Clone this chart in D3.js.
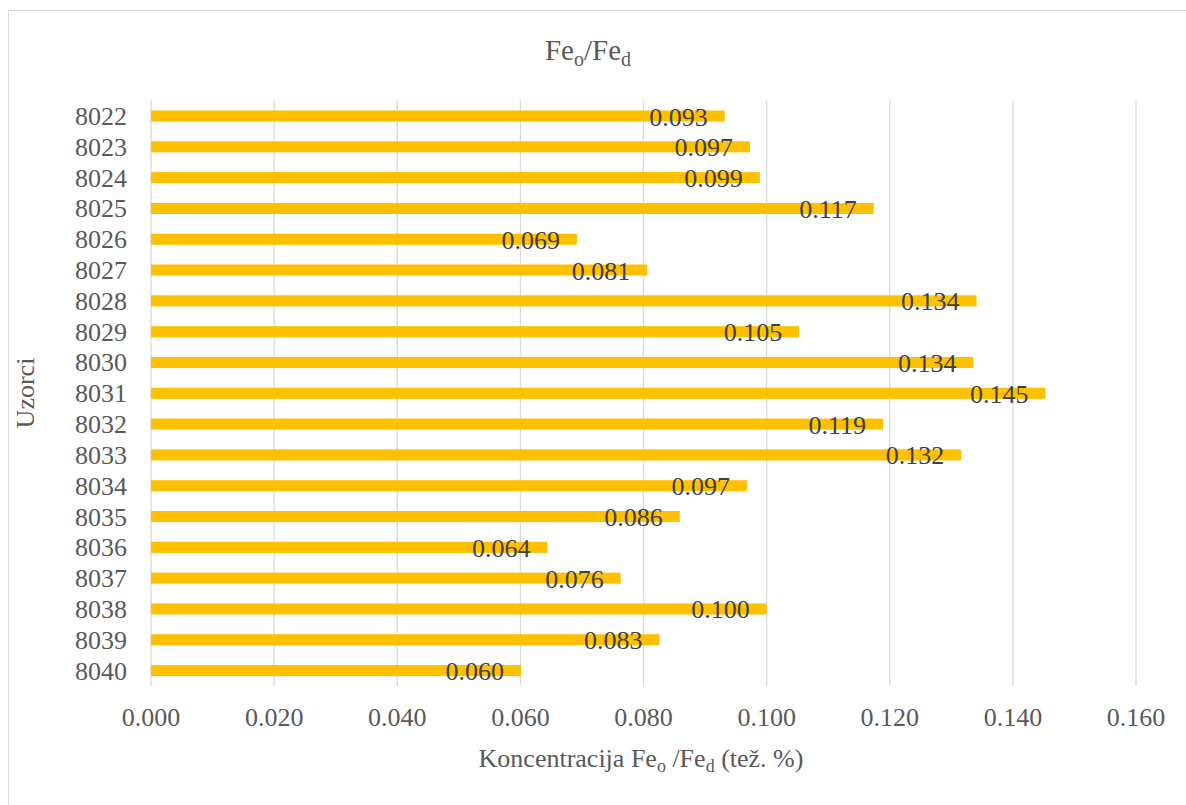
<!DOCTYPE html>
<html>
<head>
<meta charset="utf-8">
<script src="https://cdn.jsdelivr.net/npm/d3@7"></script>
<style>
  html, body { margin: 0; padding: 0; background: #fff; }
  svg { display: block; }
  text { font-family: "Liberation Serif", "Times New Roman", serif; }
</style>
</head>
<body>
<svg id="chart" width="1186" height="805"></svg>
<script>
const categories = ["8022","8023","8024","8025","8026","8027","8028","8029","8030","8031","8032","8033","8034","8035","8036","8037","8038","8039","8040"];
const values = [0.0932,0.0973,0.0989,0.1174,0.0692,0.0806,0.1341,0.1053,0.1336,0.1453,0.1189,0.1316,0.0968,0.0859,0.0644,0.0763,0.1000,0.0826,0.0601];
const xTicks = [0,0.02,0.04,0.06,0.08,0.10,0.12,0.14,0.16];

const svg = d3.select("#chart");
const plot = {left: 151, right: 1136, top: 100.6, bottom: 686};

// chart border
svg.append("rect").attr("x", 8.5).attr("y", 10.5).attr("width", 1190).attr("height", 820)
  .attr("fill", "#fff").attr("stroke", "#d9d9d9").attr("stroke-width", 1);

const x = d3.scaleLinear().domain([0, 0.16]).range([plot.left, plot.right]);
const y = d3.scaleBand().domain(categories).range([plot.top, plot.bottom])
  .paddingInner(0.64).paddingOuter(0.32);

// gridlines
svg.append("g").selectAll("line").data(xTicks).join("line")
  .attr("x1", d => x(d)).attr("x2", d => x(d))
  .attr("y1", plot.top).attr("y2", plot.bottom)
  .attr("stroke", "#d9d9d9").attr("stroke-width", 1.3);

// bars
svg.append("g").selectAll("rect").data(values).join("rect")
  .attr("x", x(0))
  .attr("y", (d, i) => y(categories[i]))
  .attr("width", d => x(d) - x(0))
  .attr("height", y.bandwidth())
  .attr("fill", "#FFC000");

// data labels
svg.append("g").selectAll("text").data(values).join("text")
  .attr("x", d => x(d) - 17)
  .attr("y", (d, i) => y(categories[i]) + y.bandwidth() / 2 + 9.5)
  .attr("text-anchor", "end")
  .attr("font-size", 26)
  .attr("fill", "#404040")
  .text(d => d3.format(".3f")(d));

// y axis labels
svg.append("g").selectAll("text").data(categories).join("text")
  .attr("x", 127)
  .attr("y", d => y(d) + y.bandwidth() / 2 + 9)
  .attr("text-anchor", "end")
  .attr("font-size", 26)
  .attr("fill", "#595959")
  .text(d => d);

// x axis labels
svg.append("g").selectAll("text").data(xTicks).join("text")
  .attr("x", d => x(d))
  .attr("y", 726)
  .attr("text-anchor", "middle")
  .attr("font-size", 26)
  .attr("fill", "#595959")
  .text(d => d3.format(".3f")(d));

// title
const title = svg.append("text").attr("x", 588).attr("y", 60)
  .attr("text-anchor", "middle").attr("font-size", 29).attr("fill", "#595959");
title.append("tspan").text("Fe");
title.append("tspan").attr("font-size", 20).attr("dy", 6).text("o");
title.append("tspan").attr("dy", -6).text("/Fe");
title.append("tspan").attr("font-size", 20).attr("dy", 6).text("d");

// x axis title
const xt = svg.append("text").attr("x", 641).attr("y", 767)
  .attr("text-anchor", "middle").attr("font-size", 26).attr("fill", "#595959");
xt.append("tspan").text("Koncentracija Fe");
xt.append("tspan").attr("font-size", 18).attr("dy", 5).text("o");
xt.append("tspan").attr("dy", -5).text(" /Fe");
xt.append("tspan").attr("font-size", 18).attr("dy", 5).text("d");
xt.append("tspan").attr("dy", -5).text(" (tež. %)");

// y axis title
svg.append("text").attr("transform", "translate(34,393) rotate(-90)")
  .attr("text-anchor", "middle").attr("font-size", 26).attr("fill", "#595959")
  .text("Uzorci");
</script>
</body>
</html>
